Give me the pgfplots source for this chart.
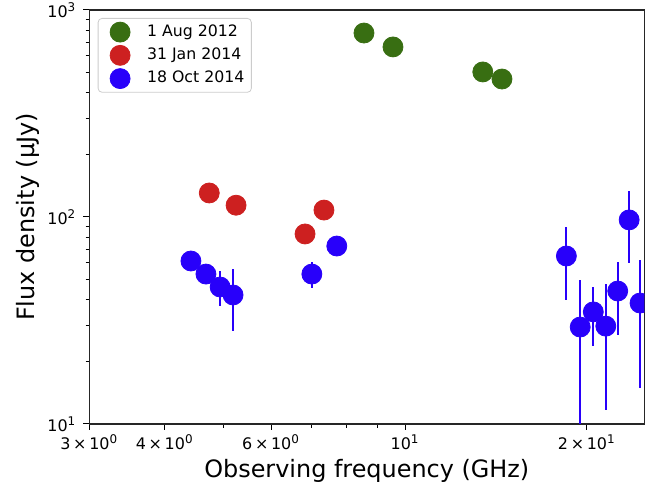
\documentclass[border=0pt]{standalone}
\usepackage{fontspec}
\setmainfont{DejaVu Sans}
\usepackage{pgfplots}
\pgfplotsset{compat=1.18}
\usepackage{pgfplotstable}

\definecolor{cgreen}{RGB}{56,110,18}
\definecolor{cred}{RGB}{205,32,32}
\definecolor{cblue}{RGB}{40,0,250}

% frequency (GHz), flux density (uJy), error
\pgfplotstableread{
f      s     e
8.55   774   0
9.55   663   0
13.45  502   0
14.47  464   0
}\aug

\pgfplotstableread{
f      s     e
4.74   130.6 0
5.25   114   0
6.83   82.8  9
7.34   108   0
}\jan

\pgfplotstableread{
f      s     e
4.42   61.3  0
4.68   53.0  0
4.94   45.9  8.7
5.19   42.0  14
7.01   53.0  7.5
7.71   72.4  0
18.5   64.8  25
19.5   29.4  20
20.5   34.8  11
21.5   29.7  18
22.5   43.9  17
23.5   96.8  37
24.5   38.4  23.5
}\oct

\pgfplotsset{
  dot/.style={only marks, mark=*, mark size=5bp, color=#1,
    mark options={draw=#1, fill=#1}, forget plot},
}

\begin{document}
\begin{tikzpicture}
\useasboundingbox (-44.65bp,-32.5bp) rectangle (286.35bp,212bp);
\begin{loglogaxis}[
  at={(0,0)}, anchor=south west,
  scale only axis,
  width=277.5bp, height=207bp,
  xmin=3, xmax=24.9,
  ymin=10, ymax=1000,
  clip marker paths=true,
  xtick={3,4,6,10,20},
  xticklabels={3\,×\,10\textsuperscript{0},4\,×\,10\textsuperscript{0},6\,×\,10\textsuperscript{0},10\textsuperscript{1},2\,×\,10\textsuperscript{1}},
  minor xtick={5,7,8,9},
  ytick={10,100,1000},
  yticklabels={10\textsuperscript{1},10\textsuperscript{2},10\textsuperscript{3}},
  minor ytick={20,30,40,50,60,70,80,90,200,300,400,500,600,700,800,900},
  tick align=outside,
  xtick pos=left, ytick pos=left,
  major tick length=3bp, minor tick length=1.8bp,
  every tick/.style={black, line width=0.5bp},
  axis line style={line width=0.7bp, black!85},
  tick label style={font=\fontsize{8}{9}\selectfont},
  xticklabel style={yshift=1bp},
  label style={font=\fontsize{12}{14}\selectfont},
  xlabel={Observing frequency (GHz)},
  ylabel={Flux density (μJy)},
  xlabel style={yshift=2bp},
  ylabel style={yshift=-3bp},
  legend style={at={(rel axis cs:0,1)}, anchor=north west, xshift=4.2bp, yshift=-4bp,
    draw=black!20, rounded corners=2bp, font=\fontsize{7.9}{9}\selectfont,
    row sep=0.3bp, inner xsep=1.5bp, inner ysep=1.2bp},
  legend cell align=left,
  legend image code/.code={
    \path[draw=none, fill=none] (0bp,-5bp) rectangle (21bp,5bp);
    \fill[#1] (9.5bp,0bp) circle[radius=5bp];
  },
  error bars/y dir=both, error bars/y explicit,
  error bars/error mark=none,
  error bars/error bar style={line width=1bp},
]
\addplot[dot=cgreen] table[x=f, y=s, y error=e] {\aug};
\addplot[dot=cred] table[x=f, y=s, y error=e] {\jan};
\addplot[dot=cblue] table[x=f, y=s, y error=e] {\oct};
\addlegendimage{color=cgreen}
\addlegendentry{1 Aug 2012}
\addlegendimage{color=cred}
\addlegendentry{31 Jan 2014}
\addlegendimage{color=cblue}
\addlegendentry{18 Oct 2014}
\end{loglogaxis}
\end{tikzpicture}
\end{document}
